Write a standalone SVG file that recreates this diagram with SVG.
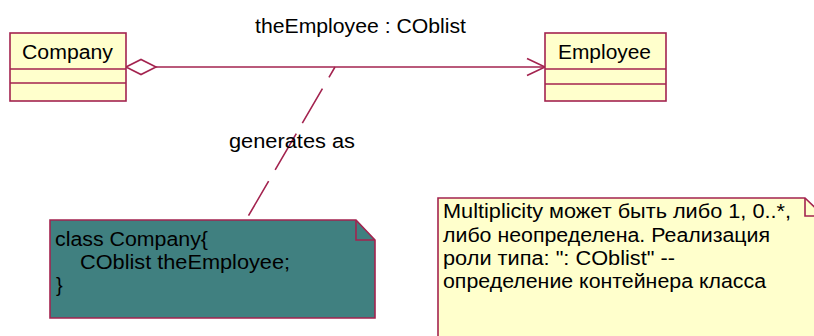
<svg xmlns="http://www.w3.org/2000/svg" width="814" height="336" viewBox="0 0 814 336">
<style>
.ln{fill:none;stroke:#a3234f;stroke-width:1.6}
.cls{fill:#ffffcc;stroke:#a3234f;stroke-width:1.6}
.t{font-family:"Liberation Sans",Arial,sans-serif;font-size:20px;fill:#000}
</style>
<rect width="814" height="336" fill="#fff"/>
<g id="connectors">
<line class="ln" x1="156" y1="67" x2="545" y2="67"/>
<polygon points="126,67 141,59.5 156,67 141,74.5" fill="#fff" stroke="#a3234f" stroke-width="1.6"/>
<polyline class="ln" points="527,58.5 545,67 527,75.5"/>
<line class="ln" x1="335" y1="67" x2="246" y2="220" stroke-dasharray="12 13 40 12 42 13 40"/>
<text class="t" x="255" y="33" textLength="211" lengthAdjust="spacingAndGlyphs">theEmployee : COblist</text>
<text class="t" x="229" y="148" textLength="126" lengthAdjust="spacingAndGlyphs">generates as</text>
</g>
<g id="company">
<rect class="cls" x="10" y="33" width="116" height="68"/>
<line class="ln" x1="10" y1="69" x2="126" y2="69"/>
<line class="ln" x1="10" y1="83" x2="126" y2="83"/>
<text class="t" x="22" y="59" textLength="91" lengthAdjust="spacingAndGlyphs">Company</text>
</g>
<g id="employee">
<rect class="cls" x="545" y="33" width="121" height="68"/>
<line class="ln" x1="545" y1="69" x2="666" y2="69"/>
<line class="ln" x1="545" y1="84" x2="666" y2="84"/>
<text class="t" x="558" y="59" textLength="93" lengthAdjust="spacingAndGlyphs">Employee</text>
</g>
<g id="codeNote">
<path d="M50,220 H356 L375,240 V318 H50 Z" fill="#408080" stroke="#a3234f" stroke-width="1.6"/>
<path class="ln" d="M356,220 V240 H375"/>
<text class="t" x="55" y="246" textLength="153" lengthAdjust="spacingAndGlyphs">class Company{</text>
<text class="t" x="80" y="269" textLength="210" lengthAdjust="spacingAndGlyphs">COblist theEmployee;</text>
<text class="t" x="56" y="292">}</text>
</g>
<g id="multiplicityNote">
<path d="M438,198 H805 L824,216 V345 H438 Z" fill="#ffffcc" stroke="#a3234f" stroke-width="1.6"/>
<path class="ln" d="M805,198 V216 H824"/>
<text class="t" x="443" y="218" textLength="348" lengthAdjust="spacingAndGlyphs">Multiplicity может быть либо 1, 0..*,</text>
<text class="t" x="443" y="242" textLength="327" lengthAdjust="spacingAndGlyphs">либо неопределена. Реализация</text>
<text class="t" x="443" y="265" textLength="232" lengthAdjust="spacingAndGlyphs">роли типа: ": COblist" --</text>
<text class="t" x="443" y="288" textLength="323" lengthAdjust="spacingAndGlyphs">определение контейнера класса</text>
</g>
</svg>
